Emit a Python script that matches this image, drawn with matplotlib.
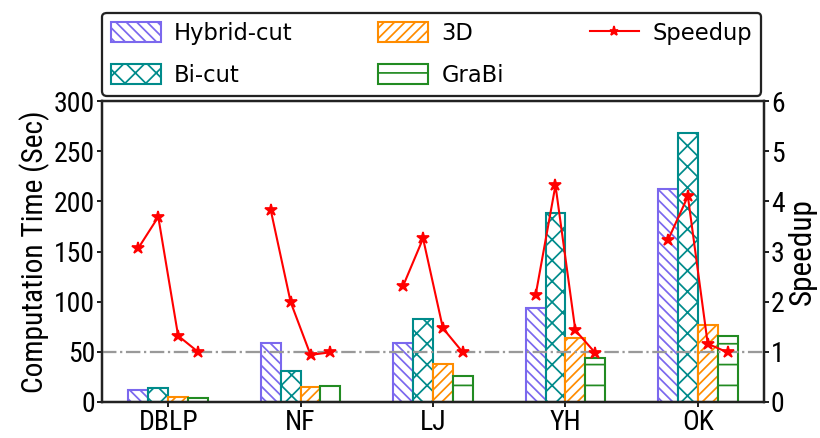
import matplotlib
matplotlib.use("Agg")
import matplotlib.pyplot as plt
import numpy as np
from matplotlib import font_manager

# ---- data -------------------------------------------------------------
datasets = ["DBLP", "NF", "LJ", "YH", "OK"]
hybrid_cut = [12, 59, 59, 94, 212]
bi_cut = [14.4, 31, 83, 188, 268]
three_d = [5.2, 15, 38, 64, 77]
grabi = [3.9, 16, 26, 44, 66]

# speedup of GraBi over Hybrid-cut, Bi-cut, 3D and itself, per dataset
speedup = [
    [3.07, 3.69, 1.32, 1.00],
    [3.82, 1.99, 0.94, 0.99],
    [2.32, 3.26, 1.47, 0.99],
    [2.13, 4.32, 1.43, 0.98],
    [3.23, 4.10, 1.16, 0.99],
]

left_ticks = [0, 50, 100, 150, 200, 250, 300]
right_ticks = [0, 1, 2, 3, 4, 5, 6]

# ---- fonts ------------------------------------------------------------
available = {f.name for f in font_manager.fontManager.ttflist}
axis_font = "Lato"
for cand in ["Liberation Sans Narrow", "Roboto Condensed", "Open Sans Condensed",
             "Noto Sans Condensed", "DejaVu Sans Condensed"]:
    if cand in available:
        axis_font = cand
        break
legend_font = "DejaVu Sans"

DPI = 125
fig = plt.figure(figsize=(820 / DPI, 438 / DPI), dpi=DPI)
ax = fig.add_axes([102 / 820, 36 / 438, 662 / 820, 301 / 438])
ax2 = ax.twinx()

x = np.arange(len(datasets))
w = 0.15
offsets = np.array([-1.5, -0.5, 0.5, 1.5]) * w

series = [
    ("Hybrid-cut", hybrid_cut, "mediumslateblue", "\\\\\\\\"),
    ("Bi-cut", bi_cut, "darkcyan", "xx"),
    ("3D", three_d, "darkorange", "////"),
    ("GraBi", grabi, "forestgreen", "-"),
]

handles = []
for (name, vals, col, hatch), off in zip(series, offsets):
    h = ax.bar(x + off, vals, w, facecolor="white", edgecolor=col,
               hatch=hatch, linewidth=1.2, label=name)
    handles.append(h)

ax2.axhline(1, color="#999999", linestyle="-.", linewidth=1.3, zorder=1)
line = None
for i, sp in enumerate(speedup):
    line, = ax2.plot(x[i] + offsets, sp, color="red", linewidth=1.2,
                     marker="*", markersize=7, label="Speedup")

ax.set_xlim(-0.5, len(datasets) - 0.5)
ax.set_ylim(0, 300)
ax2.set_ylim(0, 6)
ax.set_xticks(x)
ax.set_xticklabels(datasets)
ax.set_yticks(left_ticks)
ax2.set_yticks(right_ticks)

tick_size = 16 if axis_font != "Lato" else 15
for a in (ax, ax2):
    for sp in a.spines.values():
        sp.set_linewidth(1.3)
        sp.set_color("#222222")
    a.tick_params(length=3, width=1.0, pad=1, labelsize=tick_size)
    for lab in a.get_xticklabels() + a.get_yticklabels():
        lab.set_fontfamily(axis_font)

ax.set_ylabel("Computation Time (Sec)", fontsize=17, family=axis_font, labelpad=2)
ax2.set_ylabel("Speedup", fontsize=18, family=axis_font, labelpad=2)

leg = ax.legend(handles + [line], ["Hybrid-cut", "Bi-cut", "3D", "GraBi", "Speedup"],
                ncol=3, loc="lower left", bbox_to_anchor=(0.0, 1.017, 0.996, 0.2),
                mode="expand", prop={"family": legend_font, "size": 13},
                frameon=True, fancybox=True, edgecolor="#222222",
                handlelength=2.2, handleheight=0.95, handletextpad=0.6,
                labelspacing=0.85, borderpad=0.4, borderaxespad=0.0,
                markerscale=0.75)
leg.get_frame().set_linewidth(1.3)
leg.get_frame().set_alpha(1.0)
leg.set_zorder(10)

fig.savefig("out.png", dpi=DPI)
